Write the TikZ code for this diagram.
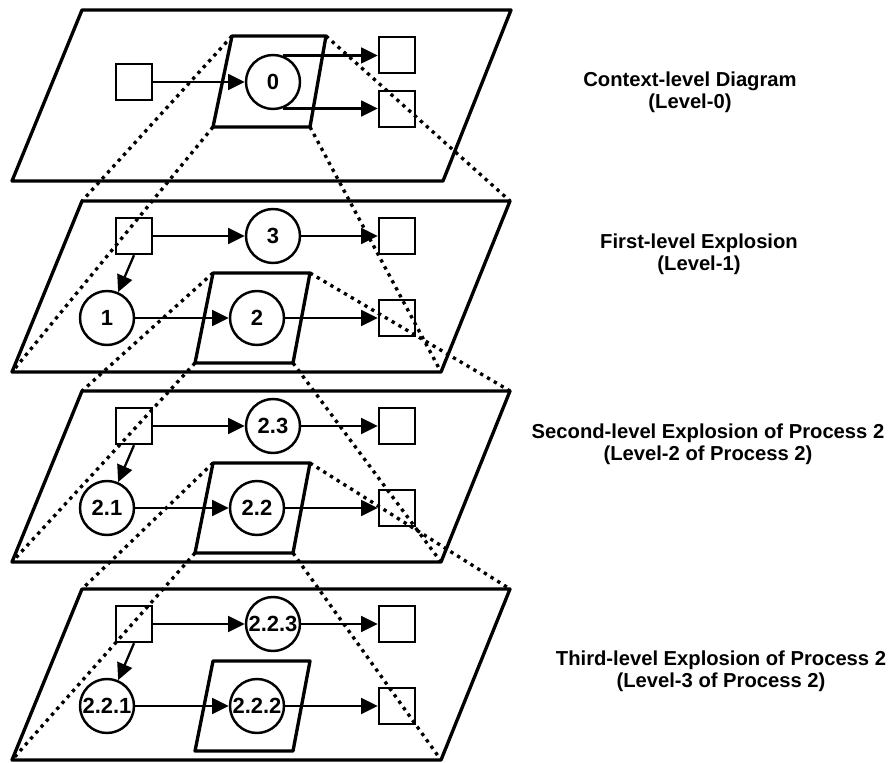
\documentclass[tikz,border=0pt]{standalone}
\usepackage{fontspec}
\setmainfont{Liberation Sans}
\usetikzlibrary{arrows.meta}
\tikzset{
  plane/.style={line width=1.9pt, line join=round},
  dots/.style={line width=1.9pt, dash pattern=on 1.9pt off 2.6pt},
  store/.style={draw, line width=1.4pt, minimum size=0.72cm, inner sep=0pt},
  proc/.style={draw, circle, line width=1.4pt, minimum size=1.08cm, inner sep=0pt,
    font=\bfseries\fontsize{12.5}{13}\selectfont},
  flow/.style={line width=1.3pt, -{Triangle[length=9.5pt,width=9pt]}},
  caption/.style={align=center, font=\bfseries\fontsize{11.5}{12.6}\selectfont},
}
\begin{document}
\begin{tikzpicture}[x=0.02cm,y=-0.02cm]
\useasboundingbox (0,0) rectangle (889,763);

% ---- context level: plane, zoom window and its processes
\coordinate (P0-a) at (82,10);
\coordinate (P0-b) at (511,10);
\coordinate (P0-c) at (443,181);
\coordinate (P0-d) at (12,181);
\coordinate (Q0-a) at (232,36);
\coordinate (Q0-b) at (326,36);
\coordinate (Q0-c) at (310,127);
\coordinate (Q0-d) at (213,127);

\node[store] (s0) at (134,82) {};
\node[proc] (c0) at (273,82) {0};
\node[store] (t0) at (397,55) {};
\node[store] (u0) at (397,109) {};
\draw[flow] (s0.east) -- (c0.west);
\draw[flow] (c0.70) -- (c0.70 -| t0.west);
\draw[flow] (c0.-70) -- (c0.-70 -| u0.west);

% ---- exploded levels
\foreach \i/\yy/\txa/\txl/\txm in {1/201/3/1/2, 2/391/2.3/2.1/2.2, 3/589/2.2.3/2.2.1/2.2.2}{
  \coordinate (P\i-a) at (82,\yy);
  \coordinate (P\i-b) at (510,\yy);
  \coordinate (P\i-c) at (441,{\yy+171});
  \coordinate (P\i-d) at (12,{\yy+171});
  \coordinate (Q\i-a) at (213,{\yy+72});
  \coordinate (Q\i-b) at (310,{\yy+72});
  \coordinate (Q\i-c) at (293,{\yy+162});
  \coordinate (Q\i-d) at (195,{\yy+162});

  \node[store] (s\i) at (134,{\yy+35}) {};
  \node[proc] (ct\i) at (273,{\yy+35}) {\txa};
  \node[store] (t\i) at (397,{\yy+35}) {};
  \node[proc] (cl\i) at (107,{\yy+117}) {\txl};
  \node[proc] (cm\i) at (257,{\yy+117}) {\txm};
  \node[store] (u\i) at (397,{\yy+117}) {};

  \draw[flow] (s\i.east) -- (ct\i.west);
  \draw[flow] (ct\i.east) -- (t\i.west);
  \draw[flow] (s\i.south) -- (cl\i);
  \draw[flow] (cl\i.east) -- (cm\i.west);
  \draw[flow] (cm\i.east) -- (u\i.west);
}

% ---- planes and zoom windows
\foreach \i in {0,1,2,3}{
  \draw[plane] (P\i-a) -- (P\i-b) -- (P\i-c) -- (P\i-d) -- cycle;
  \draw[plane] (Q\i-a) -- (Q\i-b) -- (Q\i-c) -- (Q\i-d) -- cycle;
}

% ---- projection rays from each window to the plane below
\foreach \i/\j in {0/1,1/2,2/3}
  \foreach \k in {a,b,c,d}
    \draw[dots] (Q\i-\k) -- (P\j-\k);

% ---- captions
\node[caption] (cap0) at (690,92) {Context-level Diagram\\(Level-0)};
\node[caption] (cap1) at (699,254) {First-level Explosion\\(Level-1)};
\node[caption] (cap2) at (708,444) {Second-level Explosion of Process 2\\(Level-2 of Process 2)};
\node[caption] (cap3) at (721,671) {Third-level Explosion of Process 2\\(Level-3 of Process 2)};
\end{tikzpicture}
\end{document}
